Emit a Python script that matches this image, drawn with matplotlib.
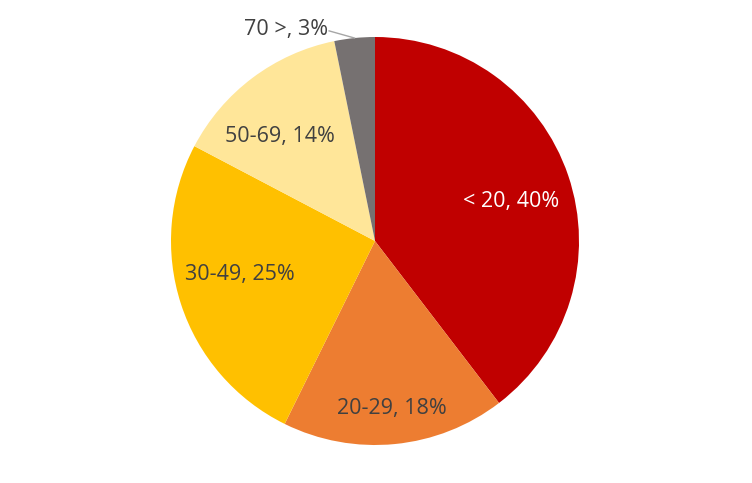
import matplotlib
matplotlib.use("Agg")
import matplotlib.pyplot as plt
import numpy as np

# age groups and shares (%) - labels show the rounded values
categories = ["< 20", "20-29", "30-49", "50-69", "70 >"]
shares = [39.6, 17.7, 25.4, 14.1, 3.2]
colors = ["#C00000", "#ED7D31", "#FFC000", "#FFE699", "#767171"]
label_colors = ["white", "#404040", "#404040", "#404040", "#404040"]

# label centres in pie units (radius = 1), None -> outside with leader line
label_pos = [(0.669, 0.196), (0.083, -0.819), (-0.662, -0.162),
             (-0.466, 0.510), None]

plt.rcParams["font.family"] = ["Open Sans", "DejaVu Sans"]

W, H = 752, 483
fig = plt.figure(figsize=(W / 100, H / 100), dpi=100)
cx, cy, r = 375, 242, 204
ax = fig.add_axes([(cx - r) / W, (cy - r) / H, 2 * r / W, 2 * r / H])

wedges, _ = ax.pie(shares, colors=colors, startangle=90, counterclock=False,
                   radius=1, frame=True, wedgeprops=dict(linewidth=0))
ax.set_xlim(-1, 1)
ax.set_ylim(-1, 1)
ax.axis("off")

for w, cat, s, lc, pos in zip(wedges, categories, shares, label_colors, label_pos):
    txt = f"{cat}, {round(s)}%"
    if pos is not None:
        ax.text(pos[0], pos[1], txt, color=lc,
                ha="center", va="center", fontsize=15.5)
    else:
        mid = np.deg2rad((w.theta1 + w.theta2) / 2)
        ex, ey = np.cos(mid), np.sin(mid)
        ax.plot([ex, -0.225], [ey, 1.03], color="#A6A6A6", lw=1,
                clip_on=False)
        ax.text(-0.232, 1.039, txt, color=lc, ha="right", va="center",
                fontsize=15.5, clip_on=False)

fig.savefig("out.png", dpi=100)
